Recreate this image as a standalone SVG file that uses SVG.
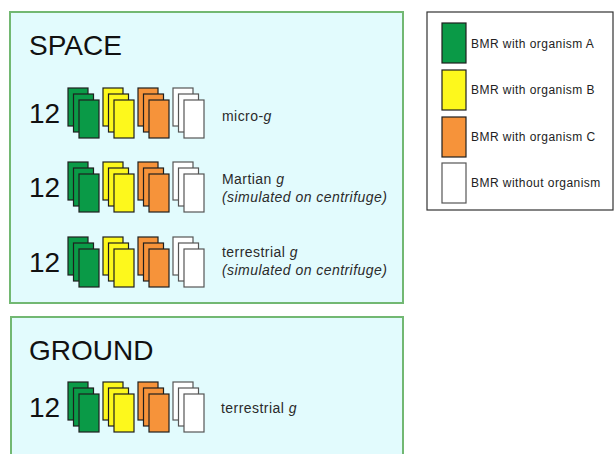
<svg xmlns="http://www.w3.org/2000/svg" xmlns:xlink="http://www.w3.org/1999/xlink" width="614" height="454" viewBox="0 0 614 454">
<style>
.panel{fill:#e2fbfd;stroke:#72b872;stroke-width:2}
.title{font-family:"Liberation Sans",Arial,sans-serif;font-size:28px;fill:#111}
.num{font-family:"Liberation Sans",Arial,sans-serif;font-size:28px;fill:#111}
.lbl{font-family:"Liberation Sans",Arial,sans-serif;font-size:14px;letter-spacing:0.45px;fill:#2a2a2a}
.it{font-style:italic}
.leg{font-family:"Liberation Sans",Arial,sans-serif;font-size:12px;letter-spacing:0.45px;fill:#222}
.card{stroke:#1e1e1e;stroke-width:1.2}
.A{fill:#0a9a47}
.B{fill:#fdf81c}
.C{fill:#f6933a}
.W{fill:#ffffff;stroke:#555}
</style>
<defs>
<g id="stackA"><rect class="card A" x="0" y="0" width="20" height="38"/><rect class="card A" x="5.5" y="6" width="20" height="38"/><rect class="card A" x="11" y="12" width="20" height="38"/></g>
<g id="stackB"><rect class="card B" x="0" y="0" width="20" height="38"/><rect class="card B" x="5.5" y="6" width="20" height="38"/><rect class="card B" x="11" y="12" width="20" height="38"/></g>
<g id="stackC"><rect class="card C" x="0" y="0" width="20" height="38"/><rect class="card C" x="5.5" y="6" width="20" height="38"/><rect class="card C" x="11" y="12" width="20" height="38"/></g>
<g id="stackW"><rect class="card W" x="0" y="0" width="20" height="38"/><rect class="card W" x="5.5" y="6" width="20" height="38"/><rect class="card W" x="11" y="12" width="20" height="38"/></g>
<g id="row"><text class="num" x="-39" y="35">12</text><use xlink:href="#stackA" x="0" y="0"/><use xlink:href="#stackB" x="35" y="0"/><use xlink:href="#stackC" x="70" y="0"/><use xlink:href="#stackW" x="105" y="0"/></g>
</defs>
<rect x="0" y="0" width="614" height="454" fill="#ffffff"/>
<g id="space">
<rect class="panel" x="10" y="12" width="393" height="291"/>
<text class="title" x="29" y="55">SPACE</text>
<g id="row-micro"><use xlink:href="#row" x="68" y="88"/><text class="lbl" x="222" y="121">micro-<tspan class="it">g</tspan></text></g>
<g id="row-martian"><use xlink:href="#row" x="68" y="162"/><text class="lbl" x="222" y="184">Martian <tspan class="it">g</tspan></text><text class="lbl it" x="222" y="202">(simulated on centrifuge)</text></g>
<g id="row-terrestrial"><use xlink:href="#row" x="68" y="237"/><text class="lbl" x="222" y="257">terrestrial <tspan class="it">g</tspan></text><text class="lbl it" x="222" y="275">(simulated on centrifuge)</text></g>
</g>
<g id="ground">
<rect class="panel" x="11" y="317" width="392" height="160"/>
<text class="title" x="29" y="360">GROUND</text>
<g id="row-ground"><use xlink:href="#row" x="68" y="382"/><text class="lbl" x="221" y="413">terrestrial <tspan class="it">g</tspan></text></g>
</g>
<g id="legend">
<rect x="427" y="12" width="186" height="198" fill="#ffffff" stroke="#333" stroke-width="1.2"/>
<g id="leg-A"><rect class="card A" x="442" y="23" width="24" height="40"/><text class="leg" x="471" y="48">BMR with organism A</text></g>
<g id="leg-B"><rect class="card B" x="442" y="70" width="24" height="40"/><text class="leg" x="471" y="94">BMR with organism B</text></g>
<g id="leg-C"><rect class="card C" x="442" y="117" width="24" height="40"/><text class="leg" x="471" y="141">BMR with organism C</text></g>
<g id="leg-W"><rect class="card W" x="442" y="163" width="24" height="40"/><text class="leg" x="471" y="187">BMR without organism</text></g>
</g>
<g id="connectors"/>
</svg>
